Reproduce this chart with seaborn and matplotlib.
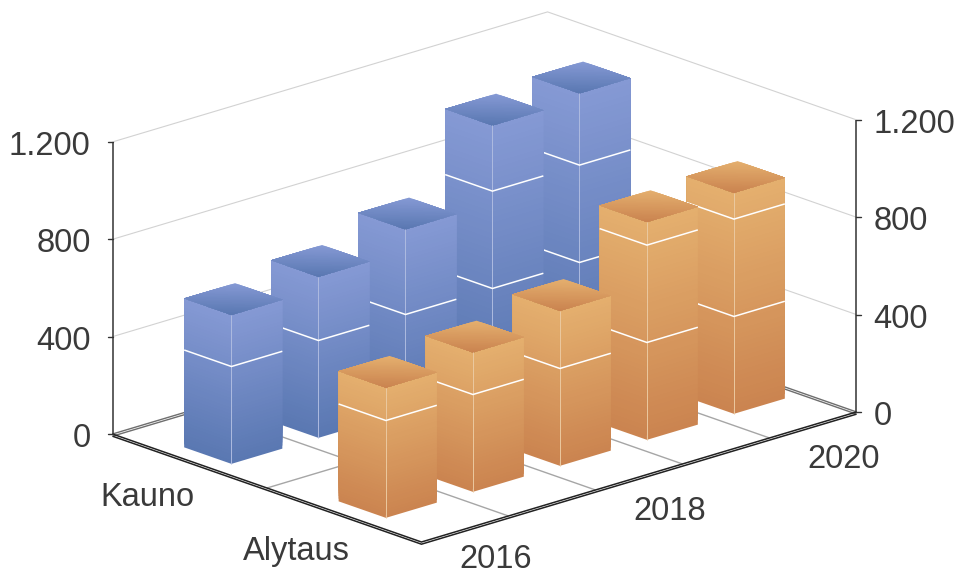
import numpy as np
import pandas as pd
import seaborn as sns
import matplotlib
matplotlib.use("Agg")
import matplotlib.pyplot as plt
from matplotlib.lines import Line2D
from matplotlib.transforms import IdentityTransform
from mpl_toolkits.mplot3d import proj3d
from mpl_toolkits.mplot3d.art3d import Poly3DCollection

years = ["2016", "2017", "2018", "2019", "2020"]
shown_years = ["2016", "2018", "2020"]
regions = ["Alytaus", "Kauno"]
alytaus = [535, 573, 637, 895, 908]
kauno = [612, 662, 750, 1070, 1095]
z_ticks = [0, 400, 800, 1200]
z_labels = ["0", "400", "800", "1.200"]
blue = ["#8599D4", "#5A78B2"]
orange = ["#E4AF6E", "#CB8450"]
blue_edge = "#AEBBE0"
orange_edge = "#EBC9A0"
text_color = "#3A3A3A"

W, H = 957, 575
sns.set_theme(style="white")
plt.rcParams["font.family"] = ["Liberation Sans", "DejaVu Sans"]

df = pd.DataFrame({"Kauno": kauno, "Alytaus": alytaus}, index=years)

fig = plt.figure(figsize=(W / 100, H / 100), dpi=100, facecolor="white")
ax = fig.add_axes([0, 0, 1, 1], projection="3d", computed_zorder=False)
ax.set_proj_type("ortho")
ax.view_init(elev=18.86, azim=-132.76)
ax.set_box_aspect((592.5, 455, 308.6))
ax.set_xlim(0, 5)
ax.set_ylim(0, 2)
ax.set_zlim(0, 1200)
ax.set_axis_off()
ax.patch.set_alpha(0)


def disp(x, y, z):
    px, py, _ = proj3d.proj_transform(x, y, z, ax.get_proj())
    return ax.transData.transform((px, py))


# place the axes so the floor corners land on the reference pixels
S = 575.0
ax.set_position([0, 0, S / W, S / H])
ax.apply_aspect()
span = disp(5, 0, 0)[0] - disp(0, 2, 0)[0]
S = S * 744.0 / span
ax.set_position([0, 0, S / W, S / H])
ax.apply_aspect()
d = disp(0, 2, 0)
left, bottom = 112.5 - d[0], (H - 434) - d[1]
ax.set_position([left / W, bottom / H, S / W, S / H])
ax.apply_aspect()


def line3(xs, ys, zs, color, lw, z):
    ax.plot(xs, ys, zs, color=color, lw=lw, zorder=z, clip_on=False,
            solid_capstyle="butt", solid_joinstyle="miter")


# walls
for v in z_ticks[1:]:
    line3([0, 5, 5], [2, 2, 0], [v, v, v], "#D2D2D2", 0.8, 1)

# floor
for i in range(1, 5):
    line3([i, i], [0, 2], [0, 0], "#A6A6A6", 1.0, 2)
line3([0, 5], [1, 1], [0, 0], "#A6A6A6", 1.0, 2)
for dz in (0, -9):
    line3([0, 5, 5], [2, 2, 0], [dz, dz, dz], "#6E6E6E", 1.0, 2)
for dz in (0, -9):
    line3([0, 0, 5], [2, 0, 0], [dz, dz, dz], "#222222", 1.1, 3)

# vertical axes
line3([0, 0], [2, 2], [0, 1200], "#333333", 1.1, 3)
line3([5, 5], [0, 0], [0, 1200], "#333333", 1.1, 3)


def poly(polys, color, z):
    pc = Poly3DCollection(polys, facecolors=[color], edgecolors="none", linewidths=0,
                          zorder=z, clip_on=False)
    ax.add_collection3d(pc)


def draw_bar(i, yc, value, colors, edge, z):
    x0, x1 = i + 0.5 - 0.2925, i + 0.5 + 0.2925
    y0, y1 = yc - 0.153, yc + 0.153
    # side faces: painter's gradient, each layer reaches from its level to the top
    n = 48
    ramp = sns.blend_palette(colors[::-1], n)
    levels = np.linspace(0, value, n + 1)
    for k in range(n):
        a = levels[k]
        poly([[(x0, y0, a), (x1, y0, a), (x1, y0, value), (x0, y0, value)],
              [(x0, y0, a), (x0, y1, a), (x0, y1, value), (x0, y0, value)]],
             ramp[k], z + 0.001 * k)
    # top face: light at the back corner, dark at the front corner
    m = 24
    tramp = sns.blend_palette(colors[::-1], m)
    ts = np.linspace(0, 2, m + 1)[1:]
    P = lambda p, q: (x0 + p * (x1 - x0), y0 + q * (y1 - y0), value)
    for k in range(m - 1, -1, -1):
        t = ts[k]
        if t <= 1:
            pts = [P(0, 0), P(t, 0), P(0, t)]
        else:
            pts = [P(0, 0), P(1, 0), P(1, t - 1), P(t - 1, 1), P(0, 1)]
        poly([pts], tramp[k], z + 0.1 + 0.001 * (m - k))
    line3([x0, x0], [y0, y0], [0, value], edge, 0.7, z + 0.2)
    for v in z_ticks[1:]:
        if v < value:
            line3([x0, x0, x1], [y1, y0, y0], [v, v, v], "white", 1.1, z + 0.3)


zorder = 10
for name, yc, cols, edge in (("Kauno", 1.5, blue, blue_edge),
                             ("Alytaus", 0.5, orange, orange_edge)):
    for i in range(len(years) - 1, -1, -1):
        draw_bar(i, yc, df[name].iloc[i], cols, edge, zorder)
        zorder += 1


def tx(x, y, z, s, dx, down, ha):
    p = disp(x, y, z)
    fig.text((p[0] + dx) / W, (p[1] - down) / H, s, ha=ha, va="center_baseline",
             fontsize=23.5, color=text_color)


def tick(x, y, z, dx):
    p = disp(x, y, z)
    fig.add_artist(Line2D([p[0], p[0] + dx], [p[1], p[1]], color="#333333", lw=1.0,
                          transform=IdentityTransform()))


for v, s in zip(z_ticks, z_labels):
    tx(0, 2, v, s, -22, 1, "right")
    tx(5, 0, v, s, 17, 1, "left")
    tick(0, 2, v, -5)
    tick(5, 0, v, 5)

for s, yc, off in zip(regions, (0.5, 1.5), (-48, -42)):
    tx(0, yc, 0, s, off, 33, "center")
for s, down in zip(shown_years, (27, 31, 31)):
    i = years.index(s)
    tx(i + 0.5, 0, 0, s, 31, down, "center")

fig.savefig("out.png", dpi=100, facecolor="white")
